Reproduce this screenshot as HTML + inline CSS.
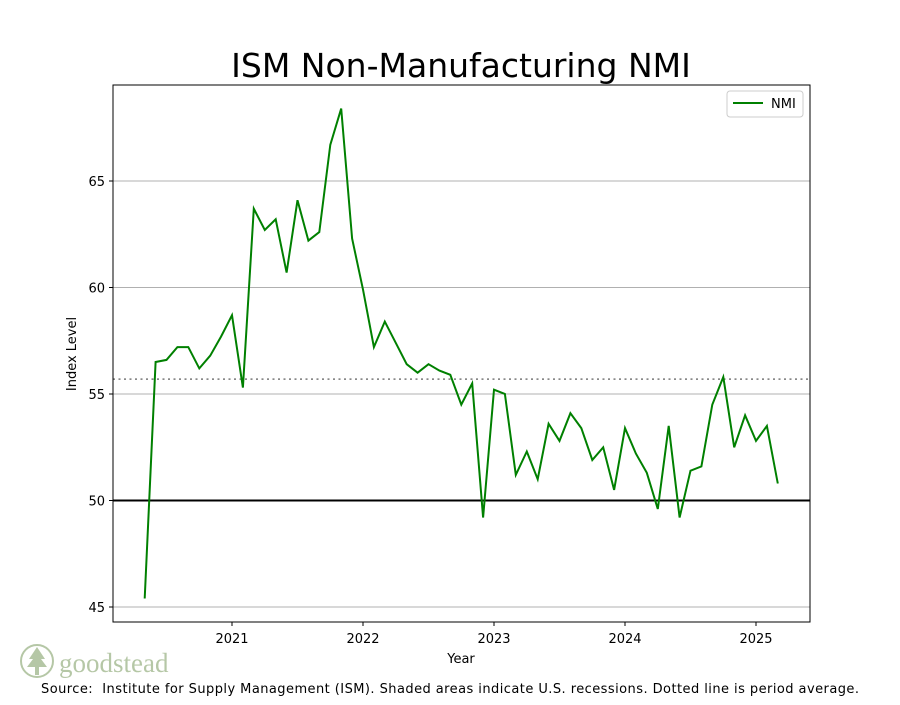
<!DOCTYPE html>
<html><head><meta charset="utf-8"><style>
body{margin:0;background:#fff;}
svg text{font-family:"DejaVu Sans","Liberation Sans",sans-serif;}
</style></head><body>
<svg id="chart" width="900" height="700" xmlns="http://www.w3.org/2000/svg">
<rect width="900" height="700" fill="#fff"/>
<text x="461" y="77" font-size="33" text-anchor="middle">ISM Non-Manufacturing NMI</text>
<g id="grid"></g>
<g id="xticks"></g>
<g id="yticks"></g>
<line id="avgline" stroke="#777" stroke-width="1.5" stroke-dasharray="2,3.5"/>
<line id="fifty" stroke="#000" stroke-width="2"/>
<polyline id="series" fill="none" stroke="#008000" stroke-width="2"/>
<rect x="113" y="85" width="697" height="537" fill="none" stroke="#000" stroke-width="1"/>
<g>
<rect x="727" y="91" width="76" height="26" fill="#fff" stroke="#ccc" rx="3"/>
<line x1="733" y1="103" x2="763" y2="103" stroke="#008000" stroke-width="2"/>
<text x="771" y="108" font-size="13">NMI</text>
</g>
<text x="461" y="663" font-size="13" text-anchor="middle">Year</text>
<text transform="translate(76,354) rotate(-90)" font-size="13" text-anchor="middle">Index Level</text>
<g opacity="0.55">
<circle cx="37" cy="661" r="16" fill="none" stroke="#7a9a5e" stroke-width="2"/>
<path d="M37 647 L29 659 L33 659 L27 667 L35 667 L35 675 L39 675 L39 667 L47 667 L41 659 L45 659 Z" fill="#7a9a5e"/>
<text x="59" y="672" font-size="27" fill="#7a9a5e" style="font-family:'Liberation Serif',serif">goodstead</text>
</g>
<text x="41" y="693" font-size="13" textLength="818" lengthAdjust="spacing">Source:&#160; Institute for Supply Management (ISM). Shaded areas indicate U.S. recessions. Dotted line is period average.</text>
</svg>
<script>
const startYear = 2020, startMonth = 5;
const values = [45.4,56.5,56.6,57.2,57.2,56.2,56.8,57.7,
58.7,55.3,63.7,62.7,63.2,60.7,64.1,62.2,62.6,66.7,68.4,62.3,
59.9,57.2,58.4,57.4,56.4,56.0,56.4,56.1,55.9,54.5,55.5,49.2,
55.2,55.0,51.2,52.3,51.0,53.6,52.8,54.1,53.4,51.9,52.5,50.5,
53.4,52.2,51.3,49.6,53.5,49.2,51.4,51.6,54.5,55.8,52.5,54.0,
52.8,53.5,50.8];
const xTickYears = [2021,2022,2023,2024,2025];
const yTicks = [45,50,55,60,65];
const average = 55.7;
const threshold = 50;

const NS="http://www.w3.org/2000/svg";
const X0=113,X1=810;
function xs(t){return 232+(t-2021)*131;}
function ys(v){return 500.5-(v-50)*21.3;}
function mk(tag,attrs,parent){const e=document.createElementNS(NS,tag);for(const k in attrs)e.setAttribute(k,attrs[k]);parent.appendChild(e);return e;}
const grid=document.getElementById('grid'),xt=document.getElementById('xticks'),yt=document.getElementById('yticks');
yTicks.forEach(v=>{
  const y=ys(v);
  const g=mk('line',{x1:X0,x2:X1,y1:y,y2:y,stroke:'#b0b0b0','stroke-width':1},grid);
  
  
  mk('line',{x1:X0-4,x2:X0,y1:y,y2:y,stroke:'#000'},yt);
  const t=mk('text',{x:X0-8,y:y+5,'font-size':13,'text-anchor':'end'},yt);
  t.textContent=v;
  
  
});
xTickYears.forEach(yr=>{
  const x=xs(yr);
  mk('line',{x1:x,x2:x,y1:622,y2:626,stroke:'#000'},xt);
  const t=mk('text',{x:x,y:643,'font-size':13,'text-anchor':'middle'},xt);
  t.textContent=yr;
  
  
});
const a=document.getElementById('avgline');
a.setAttribute('x1',X0);a.setAttribute('x2',X1);a.setAttribute('y1',ys(average));a.setAttribute('y2',ys(average));
const f=document.getElementById('fifty');
f.setAttribute('x1',X0);f.setAttribute('x2',X1);f.setAttribute('y1',ys(threshold));f.setAttribute('y2',ys(threshold));
document.getElementById('series').setAttribute('points',values.map((v,i)=>{
  const t=startYear+(startMonth-1+i)/12;
  return xs(t).toFixed(1)+','+ys(v).toFixed(1);
}).join(' '));
</script>
</body></html>
